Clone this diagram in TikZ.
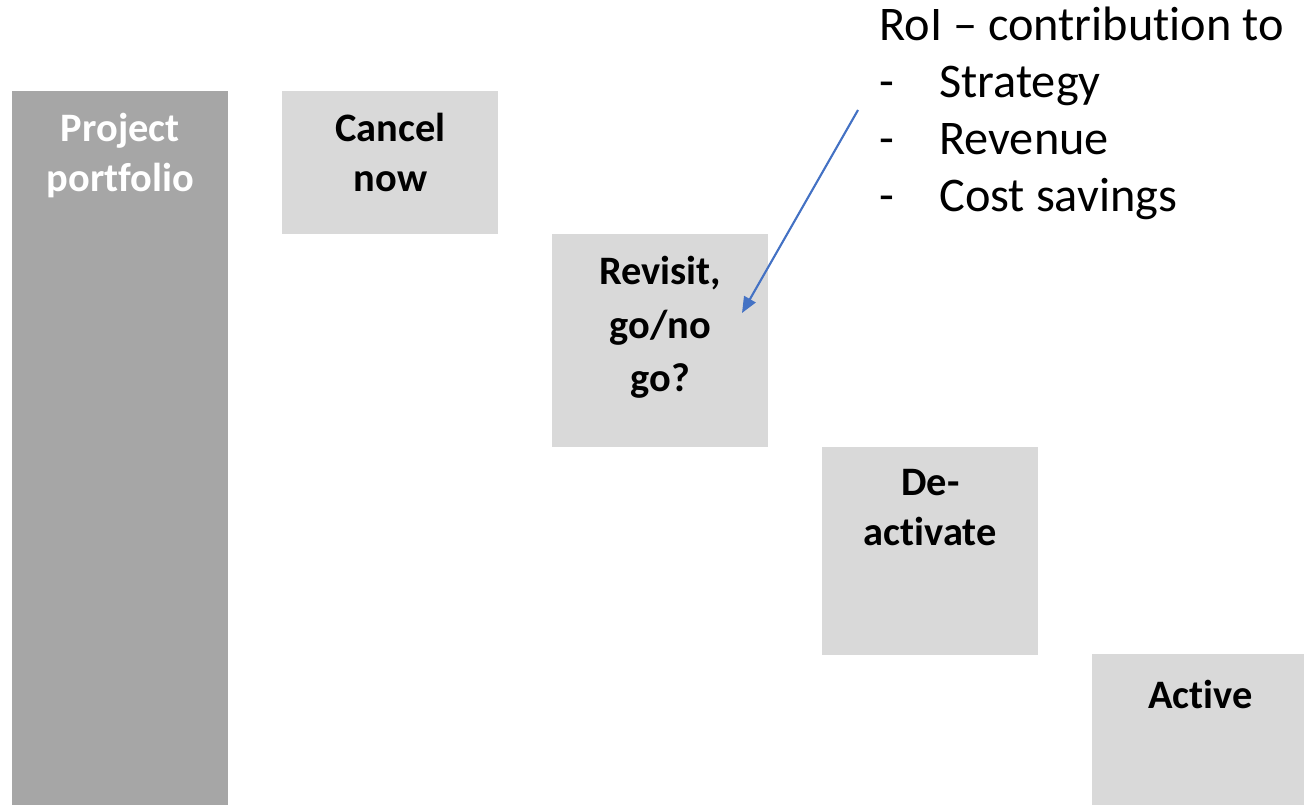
\documentclass[tikz,border=0pt]{standalone}
\usepackage{fontspec}
\setmainfont[Ligatures=NoCommon]{Carlito}
\usetikzlibrary{arrows.meta,positioning}

\definecolor{portgray}{HTML}{A6A6A6}
\definecolor{stagegray}{HTML}{D9D9D9}
\definecolor{roiblue}{HTML}{4472C4}

\tikzset{
  stage/.style={fill=stagegray, inner sep=0pt, anchor=north west, minimum width=4.32cm},
  stagetext/.style={anchor=north, inner sep=0pt, align=center, yshift=-0.44cm,
    font=\bfseries\fontsize{23}{28.4}\selectfont},
}

\begin{document}
\begin{tikzpicture}[x=0.02cm, y=-0.02cm]
        \useasboundingbox (0,0) rectangle (1304,805);

        % the portfolio column
        \node[stage, fill=portgray, minimum height=14.28cm] (portfolio) at (12,91) {};
        \node[stagetext, text=white] (portfoliotext) at (portfolio.north) {Project\\portfolio};

        % the stages, stepping down
        \node[stage, minimum height=2.86cm] (cancel) at (282,91) {};
        \node[stagetext] (canceltext) at (cancel.north) {Cancel\\now};

        \node[stage, minimum height=4.26cm] (revisit) at (552,234) {};
        \node[stagetext, font=\bfseries\fontsize{23}{30.4}\selectfont] (revisittext) at (revisit.north) {Revisit,\\go/no\\go?};

        \node[stage, minimum height=4.16cm] (deactivate) at (822,447) {};
        \node[stagetext] (deactivatetext) at (deactivate.north) {De-\\activate};

        \node[stage, minimum height=3.02cm] (active) at (1092,654) {};
        \node[stagetext, yshift=-0.08cm] (activetext) at (active.north) {Active};

        % the note and its arrow
        \node[anchor=north west, inner sep=0pt, align=left,
              font=\fontsize{27.5}{32.4}\selectfont] (roi) at (879,7)
          {RoI -- contribution to\\
           \makebox[1.2cm][l]{-}Strategy\\
           \makebox[1.2cm][l]{-}Revenue\\
           \makebox[1.2cm][l]{-}Cost savings};
        \coordinate (roifoot) at (858,110);
        \coordinate (roitip) at (742,313);
        \draw[roiblue, line width=1.2pt, -{Triangle[length=0.32cm, width=0.26cm]}] (roifoot) -- (roitip);
\end{tikzpicture}
\end{document}
